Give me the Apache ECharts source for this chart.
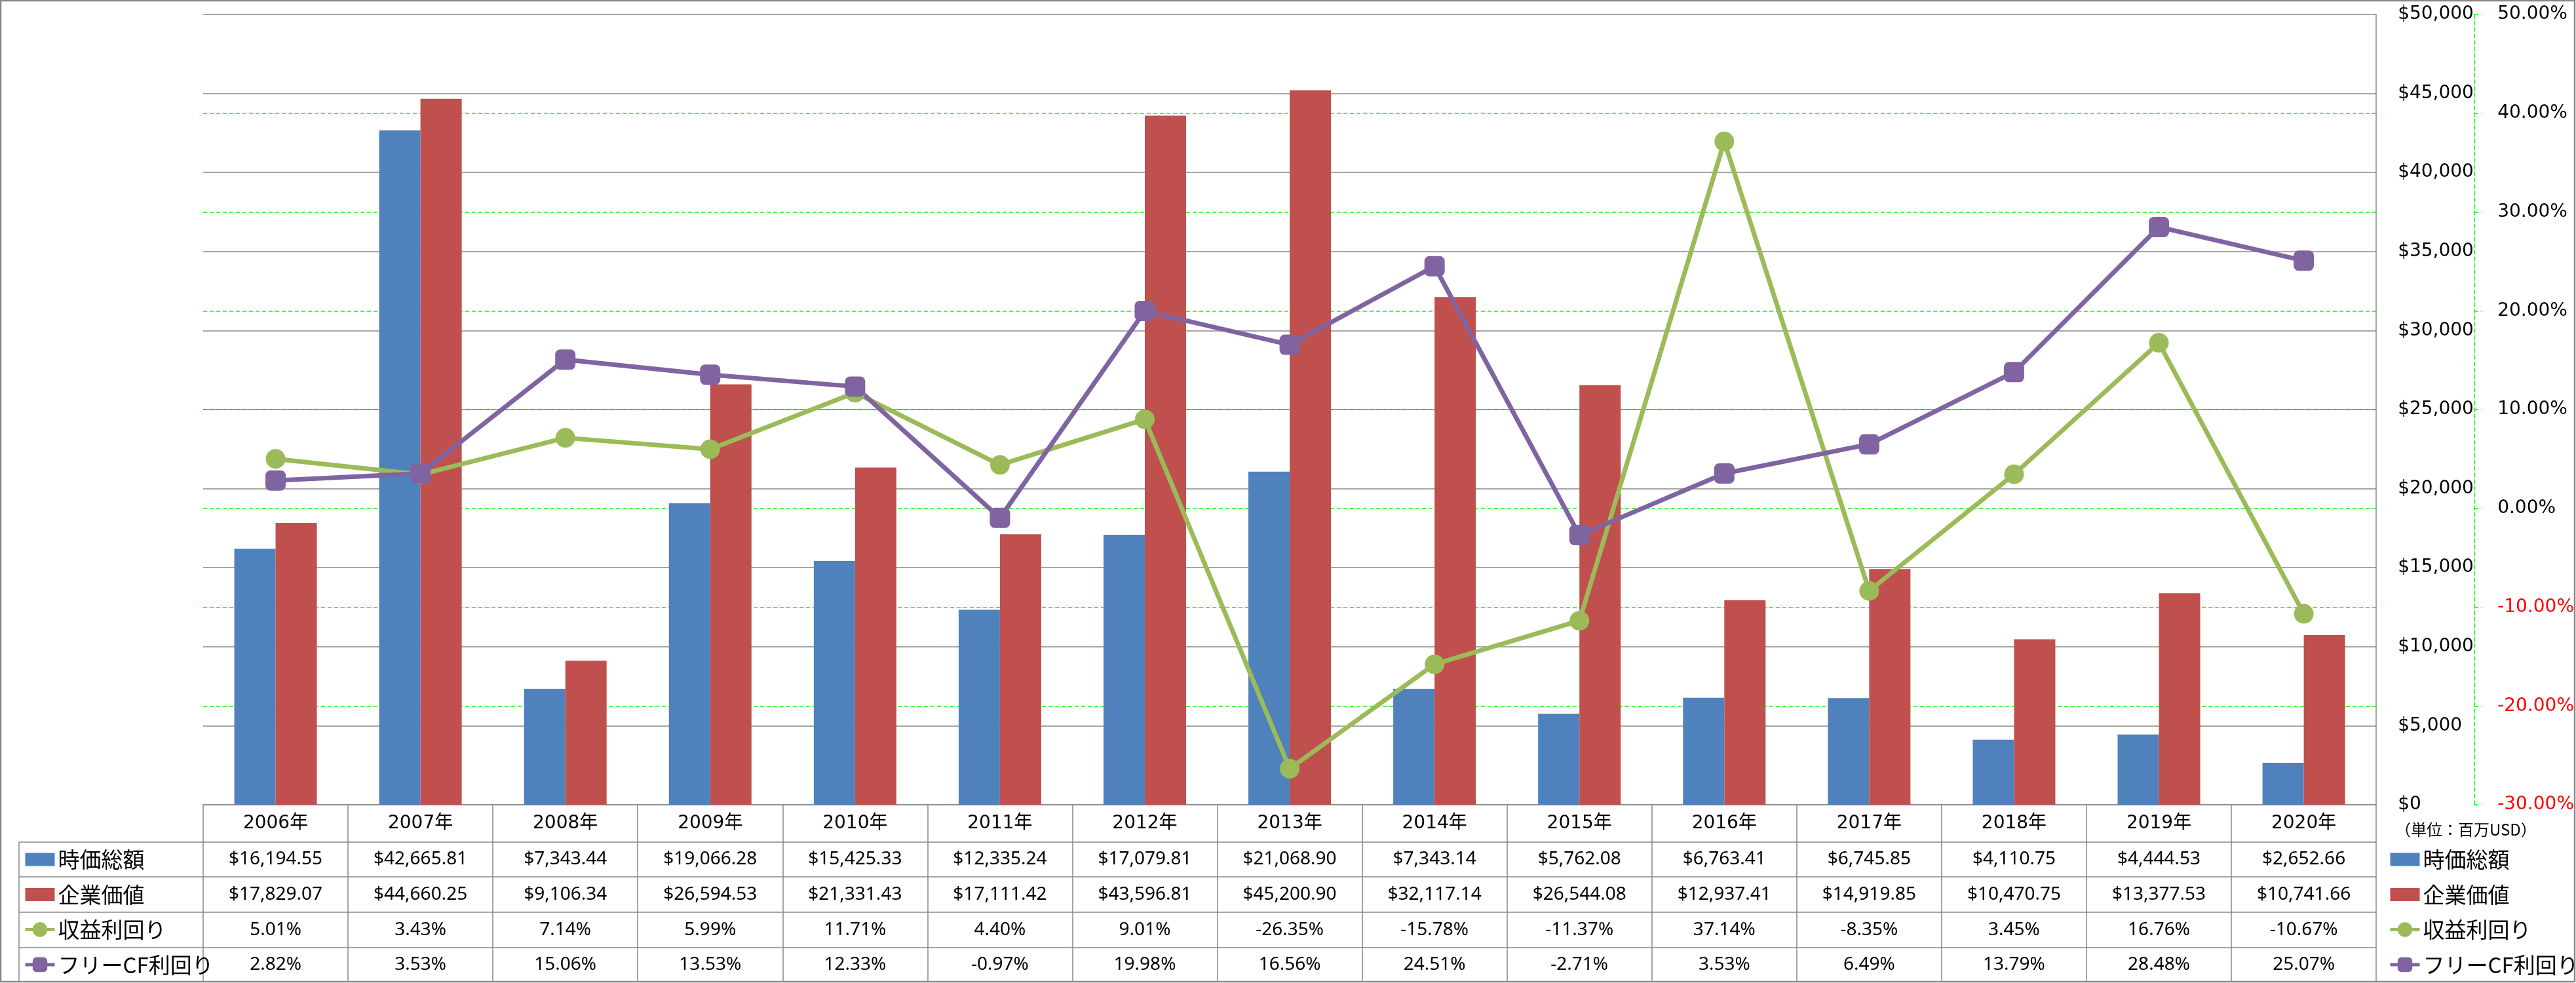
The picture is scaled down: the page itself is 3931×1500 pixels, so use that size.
<!DOCTYPE html>
<html>
<head>
<meta charset="utf-8">
<script src="https://cdn.jsdelivr.net/npm/echarts@6/dist/echarts.min.js"></script>
<style>
  html, body { margin: 0; padding: 0; background: #fff; }
  #chart { width: 3931px; height: 1500px; }
</style>
</head>
<body>
<div id="chart"></div>
<script>
// ---- data ----
const years = ['2006年','2007年','2008年','2009年','2010年','2011年','2012年','2013年','2014年','2015年','2016年','2017年','2018年','2019年','2020年'];
const marketCap = [16194.55, 42665.81, 7343.44, 19066.28, 15425.33, 12335.24, 17079.81, 21068.90, 7343.14, 5762.08, 6763.41, 6745.85, 4110.75, 4444.53, 2652.66];
const enterpriseValue = [17829.07, 44660.25, 9106.34, 26594.53, 21331.43, 17111.42, 43596.81, 45200.90, 32117.14, 26544.08, 12937.41, 14919.85, 10470.75, 13377.53, 10741.66];
const earningsYield = [5.01, 3.43, 7.14, 5.99, 11.71, 4.40, 9.01, -26.35, -15.78, -11.37, 37.14, -8.35, 3.45, 16.76, -10.67];
const fcfYield = [2.82, 3.53, 15.06, 13.53, 12.33, -0.97, 19.98, 16.56, 24.51, -2.71, 3.53, 6.49, 13.79, 28.48, 25.07];
const seriesNames = ['時価総額', '企業価値', '収益利回り', 'フリーCF利回り'];
const unitNote = '（単位：百万USD）';
const usdAxis = { min: 0, max: 50000, interval: 5000 };
const pctAxis = { min: -30, max: 50, interval: 10 };

// ---- layout / style ----
const W = 3931, H = 1500;
const gridLeft = 310, gridRight = 3627, gridTop = 22, tableTop = 1228, tableBottom = 1498;
const rowOffsets = [0, 57, 110, 164, 218];
const rowHeights = [57, 53, 54, 54, 52];
const lineGray = '#888888';
const green = '#00ff00';
const cols = { blue: '#4F81BD', red: '#C0504D', lgreen: '#9BBB59', purple: '#8064A2' };
const tableFont = '"Noto Sans", "Noto Sans CJK JP", sans-serif';
const axisFont = '"DejaVu Sans", "Noto Sans CJK JP", sans-serif';
const cjkFont = '"Noto Sans CJK JP", "Noto Sans", sans-serif';

const money = v => '$' + v.toLocaleString('en-US', { minimumFractionDigits: 2, maximumFractionDigits: 2 });
const pct = v => v.toFixed(2) + '%';
const rowFormat = [
  i => years[i],
  i => money(marketCap[i]),
  i => money(enterpriseValue[i]),
  i => pct(earningsYield[i]),
  i => pct(fcfYield[i])
];

const xAxes = rowOffsets.map((off, k) => ({
  type: 'category',
  data: years,
  position: 'bottom',
  offset: off,
  boundaryGap: true,
  axisLine: { show: true, onZero: false, lineStyle: { color: lineGray, width: 1.5 } },
  axisTick: { show: true, interval: 0, length: rowHeights[k], lineStyle: { color: lineGray, width: 1.5 } },
  axisLabel: {
    interval: 0,
    formatter: (v, i) => rowFormat[k](i),
    fontSize: 28,
    fontFamily: k === 0 ? axisFont : tableFont,
    color: '#000',
    lineHeight: 30,
    margin: rowHeights[k] / 2 - 15
  },
  splitLine: { show: false }
}));

const barIcon = 'path://M0,0L45,0ZM0,4L45,4L45,24L0,24ZM0,28L45,28Z';
const legendItems = [
  { name: seriesNames[0], icon: barIcon },
  { name: seriesNames[1], icon: barIcon },
  { name: seriesNames[2] },
  { name: seriesNames[3] }
];
const legendBase = {
  orient: 'vertical',
  top: 1291.5,
  height: 205,
  padding: 0,
  itemWidth: 45,
  itemHeight: 28,
  itemGap: 13.5,
  selectedMode: false,
  textStyle: { fontSize: 33, fontFamily: cjkFont, color: '#000', lineHeight: 40 },
  lineStyle: { width: 5 },
  data: legendItems
};

const graphics = [];
// row-label column borders
for (let k = 1; k < rowOffsets.length; k++) {
  const y = tableTop + rowOffsets[k];
  graphics.push({ type: 'line', shape: { x1: 29, y1: y, x2: gridLeft, y2: y }, style: { stroke: lineGray, lineWidth: 1.5 } });
}
graphics.push({ type: 'line', shape: { x1: 29, y1: tableTop + rowOffsets[1], x2: 29, y2: tableBottom }, style: { stroke: lineGray, lineWidth: 1.5 } });
graphics.push({ type: 'text', left: 3655, top: 1254, style: { text: unitNote, fontSize: 24, fontFamily: cjkFont, fill: '#000' } });
graphics.push({ type: 'rect', shape: { x: 1, y: 1, width: W - 3, height: H - 3 }, style: { fill: 'none', stroke: lineGray, lineWidth: 2.5 }, z: 100 });

const chart = echarts.init(document.getElementById('chart'), null, { renderer: 'canvas' });
chart.setOption({
  animation: false,
  backgroundColor: '#fff',
  grid: { left: gridLeft, right: W - gridRight, top: gridTop, bottom: H - tableTop, containLabel: false },
  legend: [
    Object.assign({}, legendBase, { left: 36 }),
    Object.assign({}, legendBase, { left: 3645 })
  ],
  xAxis: xAxes,
  yAxis: [
    {
      // percentage axis (index 0) drawn first so the gray grid sits on top
      type: 'value', position: 'right', offset: 150,
      min: pctAxis.min, max: pctAxis.max, interval: pctAxis.interval,
      axisLine: { show: true, lineStyle: { color: green, width: 1.5, type: [6, 4] } },
      axisTick: { show: true, length: 11, lineStyle: { color: green, width: 1.5, type: [6, 4] } },
      axisLabel: {
        formatter: v => Number(v).toFixed(2) + '%', margin: 35, align: 'left', fontSize: 28, fontFamily: axisFont,
        color: v => Number(v) < 0 ? '#ff0000' : '#000'
      },
      splitLine: { show: true, showMinLine: false, showMaxLine: false, lineStyle: { color: green, width: 1.5, type: [6, 4] } }
    },
    {
      type: 'value', position: 'right',
      min: usdAxis.min, max: usdAxis.max, interval: usdAxis.interval,
      axisLine: { show: true, lineStyle: { color: lineGray, width: 1.5 } },
      axisTick: { show: false },
      axisLabel: { formatter: v => '$' + Number(v).toLocaleString('en-US'), margin: 33, align: 'left', fontSize: 28, fontFamily: axisFont, color: '#000' },
      splitLine: { show: true, lineStyle: { color: lineGray, width: 1.5 } }
    }
  ],
  series: [
    { name: seriesNames[0], type: 'bar', xAxisIndex: 0, yAxisIndex: 1, data: marketCap, itemStyle: { color: cols.blue }, barGap: '0%', barCategoryGap: '43%' },
    { name: seriesNames[1], type: 'bar', xAxisIndex: 0, yAxisIndex: 1, data: enterpriseValue, itemStyle: { color: cols.red }, barGap: '0%', barCategoryGap: '43%' },
    { name: seriesNames[2], type: 'line', xAxisIndex: 0, yAxisIndex: 0, data: earningsYield, symbol: 'circle', symbolSize: 30, showAllSymbol: true,
      lineStyle: { width: 7, color: cols.lgreen }, itemStyle: { color: cols.lgreen } },
    { name: seriesNames[3], type: 'line', xAxisIndex: 0, yAxisIndex: 0, data: fcfYield, symbol: 'roundRect', symbolSize: 31, showAllSymbol: true,
      lineStyle: { width: 7, color: cols.purple }, itemStyle: { color: cols.purple } }
  ],
  graphic: graphics
});
</script>
</body>
</html>
